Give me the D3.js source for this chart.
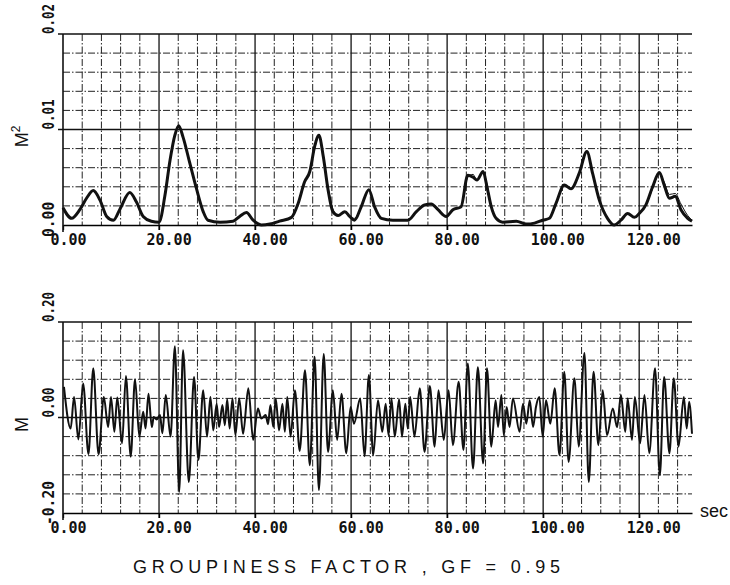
<!DOCTYPE html>
<html>
<head>
<meta charset="utf-8">
<script src="https://cdn.jsdelivr.net/npm/d3@7"></script>
<style>
  body { margin: 0; background: #fff; }
  svg { display: block; }
  .tick-lab { font-family: "DejaVu Sans Mono", monospace; font-size: 15px; font-weight: bold; fill: #111; }
</style>
</head>
<body>
<svg id="chart" width="730" height="585"></svg>
<script>
'use strict';

// time axis (sec)
var timeTicks = [0, 20, 40, 60, 80, 100, 120];
var envTicks = [0, 0.01, 0.02];
var waveTicks = [-0.2, 0, 0.2];

// squared envelope M^2, two traces almost on top of each other
var envTime = [0, 1.8, 3.5, 4.9, 6.3, 7.7, 9.1, 10.5, 11.9, 13.9, 15.3, 16.7, 18.4, 20.0,
  21.2, 22.3, 23.3, 24.1, 25.0, 26.4, 27.8, 29.2, 30.2, 32.7, 35.4, 36.8, 38.2, 39.6,
  41.3, 43.1, 45.1, 47.6, 49.0, 50.3, 51.4, 52.4, 53.3, 54.2, 55.2, 56.2, 57.3, 58.7,
  59.7, 60.7, 62.1, 63.7, 64.9, 66.3, 68.7, 71.8, 73.6, 75.3, 76.7, 78.1, 79.8, 81.2,
  82.9, 84.3, 85.4, 86.2, 87.5, 88.3, 89.2, 90.2, 91.6, 94.4, 96.5, 98.2, 99.9, 101.3,
  102.7, 104.4, 105.8, 107.5, 109.1, 110.3, 111.7, 113.4, 114.8, 116.2, 117.6, 119.0,
  120.0, 121.4, 122.8, 124.2, 125.2, 126.3, 127.5, 128.7, 130.1, 131.0];
var envA = [0.0018, 0.0007, 0.0016, 0.0028, 0.0036, 0.0026, 0.0009, 0.0005, 0.0017, 0.0034,
  0.0024, 0.0009, 0.0004, 0.0003, 0.0030, 0.0068, 0.0094, 0.0104, 0.0092, 0.0065, 0.0038,
  0.0014, 0.0005, 0.0003, 0.0004, 0.0009, 0.0013, 0.0005, 0.0000, 0.0001, 0.0004, 0.0008,
  0.0023, 0.0045, 0.0056, 0.0082, 0.0094, 0.0072, 0.0037, 0.0014, 0.0010, 0.0014, 0.0009,
  0.0005, 0.0019, 0.0037, 0.0019, 0.0007, 0.0005, 0.0005, 0.0014, 0.0021, 0.0022, 0.0016,
  0.0009, 0.0016, 0.0019, 0.0052, 0.0050, 0.0047, 0.0056, 0.0040, 0.0019, 0.0007, 0.0003,
  0.0004, 0.0001, 0.0002, 0.0005, 0.0007, 0.0023, 0.0042, 0.0038, 0.0054, 0.0077, 0.0054,
  0.0026, 0.0007, 0.0000, 0.0005, 0.0012, 0.0008, 0.0012, 0.0021, 0.0040, 0.0055, 0.0042,
  0.0028, 0.0030, 0.0016, 0.0007, 0.0004];
var envB = [0.0018, 0.0007, 0.0016, 0.0028, 0.0036, 0.0026, 0.0009, 0.0005, 0.0017, 0.0034,
  0.0024, 0.0009, 0.0004, 0.0003, 0.0030, 0.0068, 0.0094, 0.0103, 0.0092, 0.0065, 0.0038,
  0.0014, 0.0005, 0.0003, 0.0004, 0.0009, 0.0013, 0.0005, 0.0000, 0.0001, 0.0004, 0.0008,
  0.0023, 0.0045, 0.0056, 0.0080, 0.0093, 0.0072, 0.0040, 0.0017, 0.0010, 0.0014, 0.0009,
  0.0007, 0.0019, 0.0037, 0.0019, 0.0007, 0.0005, 0.0005, 0.0014, 0.0021, 0.0022, 0.0016,
  0.0009, 0.0016, 0.0019, 0.0050, 0.0053, 0.0047, 0.0055, 0.0043, 0.0019, 0.0007, 0.0003,
  0.0004, 0.0001, 0.0002, 0.0005, 0.0007, 0.0023, 0.0042, 0.0038, 0.0054, 0.0076, 0.0054,
  0.0026, 0.0007, 0.0000, 0.0005, 0.0012, 0.0008, 0.0012, 0.0021, 0.0038, 0.0054, 0.0045,
  0.0032, 0.0033, 0.0022, 0.0010, 0.0005];

// surface elevation M (peaks and troughs)
var waveTime = [0.2, 1.6, 2.3, 3.2, 4.2, 5.3, 6.3, 7.4, 8.5, 9.4, 10.0, 10.7, 11.3, 12.3,
  13.1, 14.1, 15.0, 15.9, 16.7, 17.2, 17.8, 18.5, 18.9, 19.5, 20.2, 20.7, 21.4, 22.4,
  23.3, 24.2, 25.0, 26.2, 27.3, 28.2, 29.2, 30.0, 30.7, 31.3, 32.0, 32.5, 33.2, 33.7,
  34.2, 34.7, 35.3, 35.9, 36.7, 37.5, 38.6, 39.6, 40.6, 41.3, 42.2, 42.7, 43.2, 43.8,
  44.3, 45.0, 45.7, 46.2, 46.7, 47.4, 48.3, 49.3, 50.4, 51.4, 52.4, 53.3, 54.3, 55.2,
  56.2, 57.1, 58.0, 59.0, 59.9, 60.6, 61.9, 62.8, 63.7, 64.6, 65.6, 66.5, 67.2, 67.8,
  68.4, 69.1, 70.0, 70.6, 71.3, 71.8, 72.3, 73.2, 74.3, 75.3, 76.4, 77.4, 78.2, 79.3,
  80.3, 81.2, 82.4, 83.4, 84.3, 85.4, 86.4, 87.5, 88.3, 89.2, 90.1, 90.6, 91.3, 91.8,
  92.4, 93.0, 93.7, 95.1, 95.8, 96.5, 97.2, 97.9, 98.5, 99.2, 99.9, 100.6, 101.5, 102.4,
  103.4, 104.4, 105.3, 106.5, 107.4, 108.6, 109.5, 110.5, 111.5, 112.4, 113.3, 114.5,
  115.4, 116.2, 117.1, 117.6, 118.5, 119.1, 120.2, 121.1, 122.1, 123.3, 124.3, 125.2,
  126.3, 127.2, 128.2, 129.3, 129.9, 130.4, 131.0];
var waveElev = [0.064, -0.023, 0.043, -0.046, 0.071, -0.077, 0.103, -0.077, 0.043, -0.020,
  0.043, -0.030, 0.042, -0.054, 0.087, -0.082, 0.080, -0.040, 0.012, -0.023, 0.050, -0.020,
  0.001, -0.004, 0.005, -0.033, 0.047, -0.040, 0.149, -0.156, 0.141, -0.135, 0.085, -0.089,
  0.057, -0.040, 0.043, -0.027, 0.029, -0.020, 0.026, -0.016, 0.038, -0.023, 0.040, -0.037,
  0.040, -0.034, 0.061, -0.047, 0.019, -0.002, 0.005, -0.014, 0.026, -0.020, 0.040, -0.027,
  0.029, -0.030, 0.043, -0.040, 0.057, -0.070, 0.099, -0.100, 0.127, -0.152, 0.133, -0.072,
  0.057, -0.047, 0.050, -0.075, 0.022, -0.013, 0.040, -0.081, 0.089, -0.079, 0.036, -0.030,
  0.029, -0.037, 0.040, -0.040, 0.038, -0.040, 0.029, -0.023, 0.043, -0.040, 0.061, -0.072,
  0.066, -0.061, 0.057, -0.047, 0.057, -0.058, 0.075, -0.068, 0.113, -0.107, 0.105, -0.096,
  0.103, -0.061, 0.036, -0.020, 0.047, -0.037, 0.022, -0.020, 0.040, -0.030, 0.029, -0.013,
  0.036, -0.020, 0.022, 0.043, -0.040, 0.036, -0.013, 0.061, -0.079, 0.096, -0.093, 0.082,
  -0.061, 0.135, -0.135, 0.096, -0.058, 0.057, -0.037, 0.019, -0.020, 0.047, -0.030, 0.040,
  -0.047, 0.043, -0.054, 0.047, -0.075, 0.103, -0.121, 0.085, -0.075, 0.082, -0.061, 0.043,
  -0.023, 0.033, -0.034];

var svg = d3.select('#chart');
var x = d3.scaleLinear().domain([0, 131]).range([63, 692]);
var fmt = function(d) { return d3.format('.2f')(d).replace('\u2212', '-'); };

function drawPanel(cfg) {
  var y = d3.scaleLinear().domain(cfg.domain).range([cfg.bottom, cfg.top]);
  var g = svg.append('g');

  // dash-dot grid every 4 sec / every step
  var minorX = d3.range(4, 131, 4).filter(function(t) { return t % 20 !== 0; });
  var minorY = d3.range(1, 10).map(function(i) { return cfg.domain[0] + i * cfg.step; })
    .filter(function(v) { return Math.abs(v - cfg.mid) > 1e-9; });

  g.selectAll('.gx').data(minorX).enter().append('line')
    .attr('x1', x).attr('x2', x)
    .attr('y1', cfg.top).attr('y2', cfg.bottom)
    .attr('stroke', '#222').attr('stroke-width', 1)
    .attr('stroke-dasharray', '7,2,1.5,2');
  g.selectAll('.gy').data(minorY).enter().append('line')
    .attr('x1', x(0)).attr('x2', x(131))
    .attr('y1', y).attr('y2', y)
    .attr('stroke', '#222').attr('stroke-width', 1)
    .attr('stroke-dasharray', '7,2,1.5,2');

  // solid lines: every 20 sec, middle value, top border
  g.selectAll('.mx').data(timeTicks.slice(1)).enter().append('line')
    .attr('x1', x).attr('x2', x)
    .attr('y1', cfg.top).attr('y2', cfg.bottom + 5)
    .attr('stroke', '#111').attr('stroke-width', 1.3);
  g.selectAll('.my').data([cfg.mid, cfg.domain[1]]).enter().append('line')
    .attr('x1', x(0) - 5).attr('x2', x(131))
    .attr('y1', y).attr('y2', y)
    .attr('stroke', '#111').attr('stroke-width', 1.3);

  // axes
  var xAxis = d3.axisBottom(x).tickValues(timeTicks).tickFormat(fmt)
    .tickSize(5).tickSizeOuter(0).tickPadding(4);
  var ax = g.append('g').attr('transform', 'translate(0,' + cfg.bottom + ')').call(xAxis);
  ax.select('.domain').attr('stroke-width', 1.6);
  ax.selectAll('line').attr('stroke-width', 1.3);
  ax.selectAll('text').attr('class', 'tick-lab')
    .attr('text-anchor', 'start').attr('dx', -13)
    .attr('font-family', null).attr('font-size', null);

  g.append('line')
    .attr('x1', x(0)).attr('x2', x(0))
    .attr('y1', cfg.top).attr('y2', cfg.bottom + 7)
    .attr('stroke', '#111').attr('stroke-width', 1.6);

  g.selectAll('.ylab').data(cfg.ticks).enter().append('text')
    .attr('class', 'tick-lab')
    .attr('transform', function(d, i) {
      return 'translate(54,' + (y(d) + (i === 0 ? 12 : 0)) + ') rotate(-90)';
    })
    .attr('textLength', function(d, i) { return i === 0 ? fmt(d).length * 8.8 : 30; })
    .attr('lengthAdjust', 'spacingAndGlyphs')
    .text(fmt);

  // y title
  var title = g.append('text')
    .attr('transform', 'translate(28,' + ((cfg.top + cfg.bottom) / 2 + 7) + ') rotate(-90)')
    .attr('font-family', 'Liberation Sans, Arial, sans-serif')
    .attr('font-size', 18)
    .attr('fill', '#111')
    .attr('text-anchor', 'middle');
  title.append('tspan').text(cfg.label);
  if (cfg.sup) {
    title.append('tspan').attr('font-size', 12).attr('dy', -8).text(cfg.sup);
  }

  var line = d3.line()
    .x(function(d) { return x(d[0]); })
    .y(function(d) { return y(d[1]); })
    .curve(d3.curveMonotoneX);

  cfg.series.forEach(function(s) {
    g.append('path')
      .datum(d3.zip(s.t, s.v))
      .attr('fill', 'none')
      .attr('stroke', '#111')
      .attr('stroke-width', s.w)
      .attr('stroke-linejoin', 'round')
      .attr('d', line);
  });
}

drawPanel({
  domain: [0, 0.02], step: 0.002, mid: 0.01, top: 34, bottom: 225,
  ticks: envTicks, label: 'M', sup: '2',
  series: [{t: envTime, v: envB, w: 1}, {t: envTime, v: envA, w: 3}]
});

drawPanel({
  domain: [-0.2, 0.2], step: 0.04, mid: 0, top: 322, bottom: 513,
  ticks: waveTicks, label: 'M',
  series: [{t: waveTime, v: waveElev, w: 2}]
});

svg.append('text')
  .attr('x', 700).attr('y', 517)
  .attr('font-family', 'Liberation Sans, Arial, sans-serif')
  .attr('font-size', 18).attr('fill', '#111')
  .text('sec');

svg.append('text')
  .attr('x', 133).attr('y', 573)
  .attr('font-family', 'Liberation Sans, Arial, sans-serif')
  .attr('font-size', 18).attr('fill', '#111')
  .attr('textLength', 427).attr('lengthAdjust', 'spacing')
  .text('GROUPINESS FACTOR , GF = 0.95');
</script>
</body>
</html>
